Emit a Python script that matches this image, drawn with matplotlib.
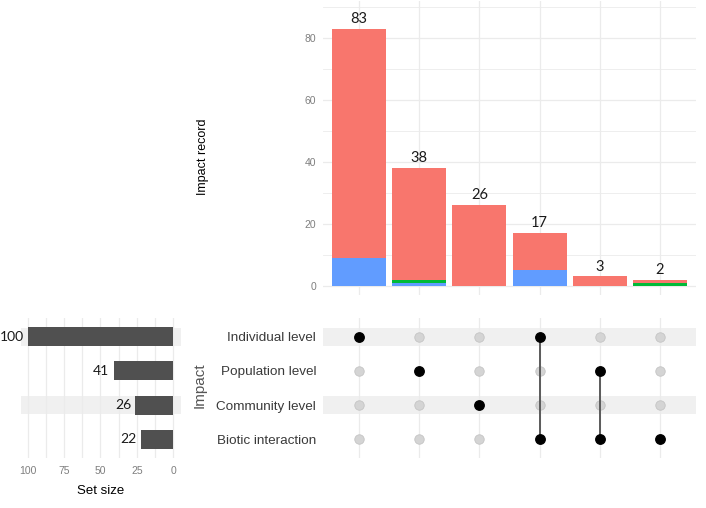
import matplotlib
matplotlib.use("Agg")
import matplotlib.pyplot as plt
import numpy as np

plt.rcParams['font.family'] = ['Liberation Sans', 'DejaVu Sans']

# ---- data ----
sets = ["Individual level", "Population level", "Community level", "Biotic interaction"]
set_sizes = [100, 41, 26, 22]
# intersections (membership per column)
combos = [
    ["Individual level"],
    ["Population level"],
    ["Community level"],
    ["Individual level", "Biotic interaction"],
    ["Population level", "Biotic interaction"],
    ["Biotic interaction"],
]
totals = [83, 38, 26, 17, 3, 2]
blue_vals = [9, 1, 0, 5, 0, 0]
green_vals = [0, 1, 0, 0, 0, 1]
red_vals = [74, 36, 26, 12, 3, 1]

RED = "#F8766D"
GREEN = "#00BA38"
BLUE = "#619CFF"
GRID = "#ebebeb"
BAND = "#f0f0f0"

W, H = 706, 508
fig = plt.figure(figsize=(W / 100, H / 100), dpi=100)

def ax_px(l, t, r, b):
    return fig.add_axes([l / W, 1 - b / H, (r - l) / W, (b - t) / H])

ncol = len(totals)
xs = np.arange(ncol)

# ---- top bar panel ----
ax = ax_px(323, 1, 696, 295)
ax.set_xlim(-0.6, ncol - 0.4)
ax.set_ylim(-3, 92)
for y in [0, 20, 40, 60, 80]:
    ax.axhline(y, color=GRID, lw=0.9, zorder=0)
for y in [10, 30, 50, 70, 90]:
    ax.axhline(y, color=GRID, lw=0.6, zorder=0)
for x in xs:
    ax.axvline(x, color=GRID, lw=0.9, zorder=0)
bw = 0.9
ax.bar(xs, blue_vals, width=bw, color=BLUE, zorder=2)
ax.bar(xs, green_vals, width=bw, bottom=blue_vals, color=GREEN, zorder=2)
bottoms = np.array(blue_vals) + np.array(green_vals)
ax.bar(xs, red_vals, width=bw, bottom=bottoms, color=RED, zorder=2)
for x, t in zip(xs, totals):
    ax.annotate(str(t), (x, t), xytext=(0, 2), textcoords="offset points",
                ha="center", va="bottom", fontsize=10.5, color="#1a1a1a",
                family=["Lato", "DejaVu Sans"])
ax.set_yticks([0, 20, 40, 60, 80])
ax.tick_params(axis="y", length=0, labelsize=7.5, labelcolor="#7f7f7f", pad=5)
ax.set_xticks([])
for s in ax.spines.values():
    s.set_visible(False)
fig.text(203 / W, 1 - 157 / H, "Impact record", rotation=90, ha="center",
         va="center", fontsize=9, color="black")

# ---- matrix panel ----
rows_y = {name: len(sets) - 1 - i for i, name in enumerate(sets)}
axm = ax_px(323, 318, 696, 458)
axm.set_xlim(-0.6, ncol - 0.4)
axm.set_ylim(-0.55, 3.55)
for i, name in enumerate(sets):
    if i % 2 == 0:
        axm.axhspan(rows_y[name] - 0.27, rows_y[name] + 0.27, color=BAND, lw=0, zorder=0)
for x in xs:
    axm.axvline(x, color=GRID, lw=0.9, zorder=0.5)
for x, combo in zip(xs, combos):
    for name in sets:
        y = rows_y[name]
        if name in combo:
            continue
        axm.plot(x, y, "o", ms=6.8, mfc="#d4d4d4", mec="#c4c4c4", mew=0.6, zorder=2)
    ys = [rows_y[n] for n in combo]
    if len(ys) > 1:
        axm.plot([x, x], [min(ys), max(ys)], color="#5a5a5a", lw=1.4, zorder=3)
    axm.plot([x] * len(ys), ys, "o", ms=6.8, color="black", zorder=4)
axm.set_yticks([rows_y[n] for n in sets])
axm.set_yticklabels(sets)
axm.tick_params(axis="y", length=0, labelsize=9.7, labelcolor="#3a3a3a", pad=5)
axm.set_xticks([])
for s in axm.spines.values():
    s.set_visible(False)
fig.text(200 / W, 1 - 385 / H, "Impact", rotation=90, ha="center", va="center",
         fontsize=11, color="#555555")

# ---- set size panel ----
axs = ax_px(21, 318, 181, 458)
axs.set_xlim(104.8, -5.5)
axs.set_ylim(-0.55, 3.55)
for i, name in enumerate(sets):
    if i % 2 == 0:
        axs.axhspan(rows_y[name] - 0.27, rows_y[name] + 0.27, color=BAND, lw=0, zorder=0)
for v in np.arange(0, 101, 12.5):
    axs.axvline(v, color=GRID, lw=0.9, zorder=0.5)
ys = [rows_y[n] for n in sets]
axs.barh(ys, set_sizes, height=0.56, color="#505050", zorder=2)
for y, v in zip(ys, set_sizes):
    axs.annotate(str(v), (v, y), xytext=(-3, 0), textcoords="offset points",
                 ha="right", va="center", fontsize=10, color="#1a1a1a",
                 family=["Lato", "DejaVu Sans"], annotation_clip=False)
axs.set_xticks([100, 75, 50, 25, 0])
axs.tick_params(axis="x", length=0, labelsize=7.5, labelcolor="#7f7f7f", pad=6)
axs.set_yticks([])
for s in axs.spines.values():
    s.set_visible(False)
axs.set_xlabel("Set size", fontsize=9.5, color="black", labelpad=6)

fig.savefig("out.png", dpi=100, facecolor="white")
